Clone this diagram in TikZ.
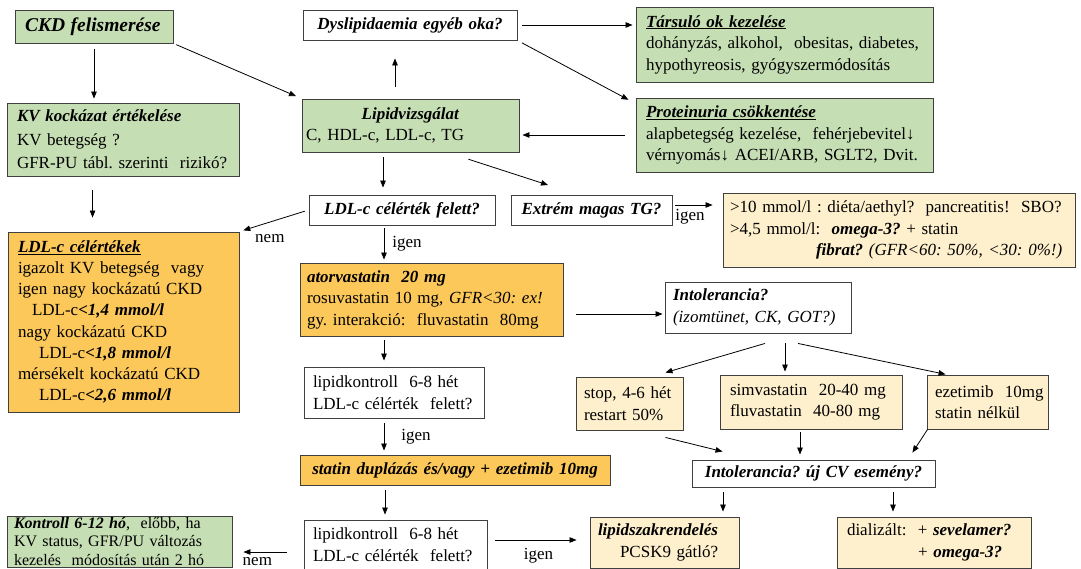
\documentclass[tikz,border=0pt]{standalone}
\usepackage{fontspec}
\setmainfont{Liberation Serif}
\usetikzlibrary{arrows.meta}
\definecolor{kgreen}{RGB}{198,222,180}
\definecolor{korange}{RGB}{252,200,90}
\definecolor{kcream}{RGB}{254,240,205}
\newcommand\mybi[1]{\textbf{\textit{#1}}}
\newcommand\lne[1]{\mbox{#1}}
\frenchspacing
\begin{document}
\begin{tikzpicture}[x=1pt,y=-1pt,
  box/.style={draw=black!75, line width=0.9pt, inner xsep=10pt, inner ysep=1pt, align=left,
    font=\fontsize{17}{21.5}\selectfont},
  arr/.style={-{Triangle[length=7pt,width=5.5pt]}, line width=0.8pt},
  lbl/.style={font=\fontsize{17}{20}\selectfont, inner sep=0pt}]
\fill[white] (0,0) rectangle (1081,569);
\useasboundingbox (0,0) rectangle (1081,569);

% boxes
\node[box, fill=kgreen, minimum height=33pt, text width=138pt] (ckd) at (94,26.5)
  {\lne{\fontsize{19.5}{22}\selectfont\mybi{CKD felismerése}}};
\node[box, fill=kgreen, minimum height=73pt, text width=212pt, font=\fontsize{17}{23.5}\selectfont] (kv) at (123,139.5)
  {\lne{\mybi{KV kockázat értékelése}}\\\lne{KV betegség ?}\\\lne{GFR-PU tábl. szerinti~ rizikó?}};
\node[box, fill=white, minimum height=30pt, text width=194pt, align=center] (dys) at (410,25)
  {\lne{\mybi{Dyslipidaemia egyéb oka?}}};
\node[box, fill=kgreen, minimum height=53pt, inner xsep=4pt, text width=209pt] (lip) at (410.5,125.5)
  {\makebox[\hsize][c]{\mybi{Lipidvizsgálat}}\\\lne{C, HDL-c, LDL-c, TG}};
\node[box, fill=kgreen, minimum height=75pt, text width=277pt] (tars) at (784.5,44.5)
  {\lne{\underline{\mybi{Társuló ok kezelése}}}\\\lne{dohányzás, alkohol,~ obesitas, diabetes,}\\\lne{hypothyreosis, gyógyszermódosítás}};
\node[box, fill=kgreen, minimum height=74pt, text width=277pt] (prot) at (784.5,135)
  {\lne{\underline{\mybi{Proteinuria csökkentése}}}\\\lne{alapbetegség kezelése,~ fehérjebevitel↓}\\\lne{vérnyomás↓ ACEI/ARB, SGLT2, Dvit.}};
\node[box, fill=white, minimum height=30pt, text width=166pt, align=center] (ldlq) at (402,210)
  {\lne{\mybi{LDL-c célérték felett?}}};
\node[box, fill=white, minimum height=30pt, text width=141pt, align=center] (extr) at (591.5,210)
  {\lne{\mybi{Extrém magas TG?}}};
\node[box, fill=kcream, minimum height=74pt, inner xsep=7pt, text width=338pt] (tg) at (899,230)
  {\lne{>10 mmol/l : diéta/aethyl?~ pancreatitis!~ SBO?}\\\lne{>4,5 mmol/l:~ \mybi{omega-3?} + statin}\\\lne{\hspace*{86pt}\mybi{fibrat?} \textit{(GFR<60: 50\%, <30: 0\%!)}}};
\node[box, fill=korange, minimum height=180pt, text width=211pt, font=\fontsize{17}{21.2}\selectfont] (ldlt) at (123.5,322)
  {\lne{\underline{\mybi{LDL-c célértékek}}}\\\lne{igazolt KV betegség~ vagy}\\\lne{igen nagy kockázatú CKD}\\\lne{\hspace*{14pt}LDL-c\mybi{<1,4 mmol/l}}\\\lne{nagy kockázatú CKD}\\\lne{\hspace*{21pt}LDL-c\mybi{<1,8 mmol/l}}\\\lne{mérsékelt kockázatú CKD}\\\lne{\hspace*{21pt}LDL-c\mybi{<2,6 mmol/l}}};
\node[box, fill=korange, minimum height=73pt, inner xsep=7pt, text width=249pt] (ator) at (431.5,299.5)
  {\lne{\mybi{atorvastatin~ 20 mg}}\\\lne{rosuvastatin 10 mg, \textit{GFR<30: ex!}}\\\lne{gy. interakció:~ fluvastatin~ 80mg}};
\node[box, fill=white, minimum height=51pt, inner xsep=8pt, text width=170pt] (intol) at (758,307.5)
  {\lne{\mybi{Intolerancia?}}\\\lne{\textit{(izomtünet, CK, GOT?)}}};
\node[box, fill=white, minimum height=51pt, inner xsep=9pt, text width=162pt] (lk1) at (394,392.5)
  {\lne{lipidkontroll~ 6-8 hét}\\\lne{LDL-c célérték~ felett?}};
\node[box, fill=kcream, minimum height=53pt, inner xsep=8pt, text width=91pt] (stop) at (629.5,403.5)
  {\lne{stop, 4-6 hét}\\\lne{restart 50\%}};
\node[box, fill=kcream, minimum height=54pt, text width=162pt] (simv) at (811,402)
  {\lne{simvastatin~ 20-40 mg}\\\lne{fluvastatin~ 40-80 mg}};
\node[box, fill=kcream, minimum height=54pt, inner xsep=8pt, text width=105pt] (ezet) at (987.5,402)
  {\lne{ezetimib~ 10mg}\\\lne{statin nélkül}};
\node[box, fill=korange, minimum height=30pt, text width=290pt, align=center] (dupl) at (455,470)
  {\lne{\mybi{statin duplázás és/vagy + ezetimib 10mg}}};
\node[box, fill=white, minimum height=27pt, inner xsep=5pt, text width=233pt, align=center] (icv) at (813.5,473.5)
  {\lne{\mybi{Intolerancia? új CV esemény?}}};
\node[box, fill=kgreen, minimum height=51pt, inner xsep=7pt, inner ysep=-3pt, text width=211pt, font=\fontsize{16}{18.5}\selectfont] (kontr) at (119.5,541.5)
  {\lne{\mybi{Kontroll 6-12 hó},~ előbb, ha}\\\lne{KV status, GFR/PU változás}\\\lne{kezelés~ módosítás után 2 hó}};
\node[box, fill=white, minimum height=49pt, inner xsep=9pt, text width=165pt] (lk2) at (395.5,544.5)
  {\lne{lipidkontroll~ 6-8 hét}\\\lne{LDL-c célérték~ felett?}};
\node[box, fill=kcream, minimum height=51pt, inner xsep=8pt, text width=133pt] (szak) at (664.5,542.5)
  {\lne{\mybi{lipidszakrendelés}}\\\lne{\hspace*{22pt}PCSK9 gátló?}};
\node[box, fill=kcream, minimum height=51pt, text width=174pt] (dial) at (934,542.5)
  {\lne{dializált:~ + \mybi{sevelamer?}}\\\lne{\hspace*{71pt}+ \mybi{omega-3?}}};

% connectors
\draw[arr, shorten <=6pt, shorten >=4pt] (ckd.south) -- (ckd.south |- kv.north);
\draw[arr, shorten <=3pt, shorten >=6pt] (ckd.south east) -- (lip.north west);
\coordinate (c3) at ([xshift=86pt]kv.south west);
\draw[arr, shorten <=14pt, shorten >=14pt] (c3) -- (c3 |- ldlt.north);
\coordinate (c4) at ([xshift=-15.5pt]lip.north);
\draw[arr, shorten <=12pt, shorten >=18pt] (c4) -- (c4 |- dys.south);
\draw[arr, shorten <=5pt, shorten >=3pt] (dys.east) -- (dys.east -| tars.west);
\coordinate (c6) at ([yshift=-6pt]prot.north west);
\draw[arr, shorten <=5pt, shorten >=8pt] (dys.south east) -- (c6);
\draw[arr, shorten <=11pt, shorten >=3pt] (prot.west) -- (prot.west -| lip.east);
\coordinate (c8) at ([xshift=-27.5pt]lip.south);
\draw[arr, shorten <=5pt, shorten >=7pt] (c8) -- (c8 |- ldlq.north);
\coordinate (c9a) at ([xshift=-72pt]lip.south east);
\coordinate (c9b) at ([xshift=-14pt]extr.north);
\draw[arr, shorten <=22pt, shorten >=31pt] (c9a) -- (c9b);
\draw[arr, shorten <=4pt, shorten >=4pt] (ldlq.west) -- (ldlt.north east)
  node[lbl, pos=0.56, below=12pt] {nem};
\coordinate (c11) at ([xshift=-18pt]ldlq.south);
\draw[arr, shorten <=3pt, shorten >=3pt] (c11) -- (c11 |- ator.north)
  node[lbl, midway, right=8pt] {igen};
\coordinate (c12) at ([yshift=5pt]extr.east);
\draw[arr, shorten <=3pt, shorten >=10pt] (c12) -- (c12 -| tg.west)
  node[lbl, pos=0.35, below=4pt] {igen};
\coordinate (c13) at ([yshift=-14.5pt]ator.east);
\draw[arr, shorten <=13pt, shorten >=2pt] (c13) -- (c13 -| intol.west);
\coordinate (c14) at ([xshift=-47.5pt]ator.south);
\draw[arr, shorten <=4pt, shorten >=6pt] (c14) -- (c14 |- lk1.north);
\coordinate (c15a) at ([xshift=7pt,yshift=-10pt]intol.south);
\coordinate (c15b) at ([xshift=-18pt,yshift=4pt]stop.north east);
\draw[arr] (c15a) -- (c15b);
\coordinate (c16) at ([xshift=27pt]intol.south);
\draw[arr, shorten <=10pt, shorten >=3pt] (c16) -- (c16 |- simv.north);
\coordinate (c17a) at ([xshift=40pt,yshift=-10pt]intol.south);
\coordinate (c17b) at ([xshift=20pt]ezet.north west);
\draw[arr, shorten >=1pt] (c17a) -- (c17b);
\coordinate (c18a) at ([xshift=-18pt,yshift=-7pt]stop.south east);
\coordinate (c18b) at ([xshift=31pt,yshift=8pt]icv.north west);
\draw[arr] (c18a) -- (c18b);
\coordinate (c19) at ([xshift=-11pt]simv.south);
\draw[arr, shorten <=3pt, shorten >=5pt] (c19) -- (c19 |- icv.north);
\coordinate (c20a) at ([xshift=1pt]ezet.south west);
\coordinate (c20b) at ([xshift=-23pt,yshift=7pt]icv.north east);
\draw[arr] (c20a) -- (c20b);
\coordinate (c21) at ([xshift=-10pt]lk1.south);
\draw[arr, shorten <=5pt, shorten >=4pt] (c21) -- (c21 |- dupl.north)
  node[lbl, midway, right=17pt] {igen};
\coordinate (c22) at ([xshift=-10.5pt]lk2.north);
\draw[arr, shorten <=5pt, shorten >=5pt] (c22 |- dupl.south) -- (c22);
\coordinate (c23) at ([yshift=-7.5pt]lk2.west);
\draw[arr, shorten <=17pt, shorten >=11pt] (c23) -- (c23 -| kontr.east)
  node[lbl, pos=0.65, below=5pt] {nem};
\coordinate (c24) at ([yshift=4.5pt]lk2.east);
\draw[arr, shorten <=8pt, shorten >=13pt] (c24) -- (c24 -| szak.west)
  node[lbl, midway, below=8pt] {igen};
\coordinate (c25) at ([xshift=-90.5pt]icv.south);
\draw[arr, shorten <=5pt, shorten >=5pt] (c25) -- (c25 |- szak.north);
\coordinate (c26) at ([xshift=79.5pt]icv.south);
\draw[arr, shorten <=5pt, shorten >=5pt] (c26) -- (c26 |- dial.north);
\end{tikzpicture}
\end{document}
